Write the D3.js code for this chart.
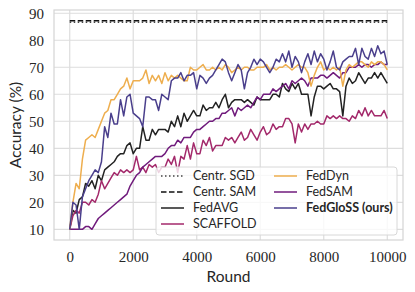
<!DOCTYPE html>
<html>
<head>
<meta charset="utf-8">
<script src="https://cdn.jsdelivr.net/npm/d3@7"></script>
<style>
body { margin: 0; background: #fff; }
.lab { font-family: Lato, "DejaVu Sans", sans-serif; font-size: 15.5px; fill: #262626; }
.leg { font-family: Lato, "DejaVu Sans", sans-serif; font-size: 12.5px; fill: #262626; }
</style>
</head>
<body>
<script>
var width = 415,
    height = 292,
    margin = {left: 54, right: 12, top: 10, bottom: 52};

// rounds 0..10000 every 100
var rounds = d3.range(0, 10001, 100);

var fedDyn = [10,20,27,25,36,43,44,45,44,47,50,53,54,58,58,60,62,63,66,62,
    65,65,65,66,69,64,67,65,67,64,68,65,67,66,67,66,65,65,70,69,
    69,70,71,69,69,70,69,70,69,71,70,68,69,70,69,70,70,69,69,70,
    70,70,71,69,70,69,70,70,71,70,69,70,71,70,70,68,63,67,70,72,
    69,70,69,70,69,70,63,69,71,70,71,72,72,71,70,72,71,72,72,71,69];
var fedGloss = [10,20,19,10,22,25,28,30,32,31,35,48,44,53,49,49,58,52,59,60,
    53,52,51,48,59,59,58,58,54,60,59,58,65,66,66,68,65,67,67,68,
    62,67,66,64,66,67,69,71,73,72,68,65,68,71,69,62,68,70,73,71,
    73,72,70,68,70,73,72,75,72,76,70,74,72,68,72,75,71,76,72,75,
    73,69,72,76,70,69,72,73,74,74,77,71,77,74,73,77,74,78,75,76,71];
var fedAvg = [10,17,16,21,22,27,26,28,25,30,28,32,33,34,35,37,38,38,41,42,
    38,40,40,48,43,43,47,45,47,47,47,46,50,48,52,48,53,50,52,54,
    52,52,56,54,55,55,57,55,58,60,55,57,58,58,58,57,58,57,56,59,
    58,58,58,58,60,60,59,64,62,61,64,62,64,60,60,60,52,59,63,63,
    62,63,64,62,62,61,52,63,66,64,65,68,66,64,66,66,68,66,68,66,64];
var scaffold = [10,15,17,16,20,20,19,21,20,23,28,25,27,29,31,30,32,31,32,31,
    32,37,32,33,31,34,33,34,31,33,33,36,34,37,31,37,36,41,36,42,
    38,38,43,41,44,39,41,41,41,44,43,44,42,44,46,43,44,47,45,43,
    46,48,45,46,49,47,48,48,51,51,49,42,49,46,49,47,49,49,50,49,
    49,52,51,52,51,52,51,51,50,52,51,54,52,55,52,54,52,52,52,54,51];
var fedSam = [10,10,10,10,10,11,11,10,12,14,15,16,17,18,19,20,21,22,23,26,
    28,30,31,33,34,35,36,37,37,37,38,40,41,41,43,42,44,44,44,46,
    47,47,48,49,50,50,51,51,53,53,54,55,52,55,54,55,56,55,57,59,
    58,60,60,60,62,61,62,63,64,62,65,64,65,66,65,63,66,66,66,67,
    67,66,67,68,67,66,68,68,70,70,70,71,70,71,71,70,71,71,72,71,71];
var centrSgd = 86.7,
    centrSam = 87.2;

var yTicks = [10,20,30,40,50,60,70,80,90];
var xTicks = [0,2000,4000,6000,8000,10000];

var series = [
    {name: "FedAVG", values: fedAvg, color: "#222222"},
    {name: "SCAFFOLD", values: scaffold, color: "#a3296b"},
    {name: "FedSAM", values: fedSam, color: "#701b7c"},
    {name: "FedDyn", values: fedDyn, color: "#eeae4e"},
    {name: "FedGloSS (ours)", values: fedGloss, color: "#4a3f8c"}
];

var svg = d3.select("body").append("svg")
    .attr("width", width)
    .attr("height", height);

var x = d3.scaleLinear().domain([-495, 10495]).range([margin.left, width - margin.right]);
var y = d3.scaleLinear().domain([6.04, 91.2]).range([height - margin.bottom, margin.top]);

// grid
svg.append("g").selectAll("line").data(yTicks).enter().append("line")
    .attr("x1", x.range()[0]).attr("x2", x.range()[1])
    .attr("y1", d => y(d)).attr("y2", d => y(d))
    .attr("stroke", "#dddddd").attr("stroke-width", 1.2);
svg.append("g").selectAll("line").data(xTicks).enter().append("line")
    .attr("y1", y.range()[0]).attr("y2", y.range()[1])
    .attr("x1", d => x(d)).attr("x2", d => x(d))
    .attr("stroke", "#dddddd").attr("stroke-width", 1.2);

// frame
svg.append("rect")
    .attr("x", x.range()[0]).attr("y", y.range()[1])
    .attr("width", x.range()[1] - x.range()[0])
    .attr("height", y.range()[0] - y.range()[1])
    .attr("fill", "none").attr("stroke", "#d4d4d4").attr("stroke-width", 1.2);

// axes
var xAxis = svg.append("g")
    .attr("transform", "translate(0," + y.range()[0] + ")")
    .call(d3.axisBottom(x).tickValues(xTicks).tickFormat(d3.format("d")).tickSize(0).tickPadding(11));
var yAxis = svg.append("g")
    .attr("transform", "translate(" + x.range()[0] + ",0)")
    .call(d3.axisLeft(y).tickValues(yTicks).tickSize(0).tickPadding(10));
[xAxis, yAxis].forEach(function (a) {
    a.select(".domain").remove();
    a.attr("font-family", "'Liberation Serif', serif")
        .attr("font-size", 15);
    a.selectAll("text").attr("fill", "#262626");
});

svg.append("text").attr("class", "lab")
    .attr("x", (x.range()[0] + x.range()[1]) / 2).attr("y", 282)
    .attr("text-anchor", "middle").text("Round");
svg.append("text").attr("class", "lab")
    .attr("transform", "translate(21," + (y.range()[0] + y.range()[1]) / 2 + ") rotate(-90)")
    .attr("text-anchor", "middle").text("Accuracy (%)");

// centralized baselines
svg.append("line")
    .attr("x1", x(0)).attr("x2", x(10000))
    .attr("y1", y(centrSgd)).attr("y2", y(centrSgd))
    .attr("stroke", "#444").attr("stroke-width", 1.5).attr("stroke-dasharray", "1.5,2.5");
svg.append("line")
    .attr("x1", x(0)).attr("x2", x(10000))
    .attr("y1", y(centrSam)).attr("y2", y(centrSam))
    .attr("stroke", "#111").attr("stroke-width", 1.5).attr("stroke-dasharray", "5.5,2.5");

var line = d3.line()
    .x((d, i) => x(rounds[i]))
    .y(d => y(d));

series.forEach(function (s) {
    svg.append("path")
        .attr("d", line(s.values))
        .attr("fill", "none")
        .attr("stroke", s.color)
        .attr("stroke-width", 1.5)
        .attr("stroke-linejoin", "round");
});

// legend
var leg = svg.append("g").attr("transform", "translate(156,167)");
leg.append("rect")
    .attr("width", 241).attr("height", 68).attr("rx", 3)
    .attr("fill", "#fff").attr("fill-opacity", 0.8)
    .attr("stroke", "#d8d8d8").attr("stroke-width", 1);

var legItems = [
    {name: "Centr. SGD", color: "#444", dash: "1.5,2.5"},
    {name: "Centr. SAM", color: "#111", dash: "5.5,2.5"},
    {name: "FedAVG", color: series[0].color},
    {name: "SCAFFOLD", color: series[1].color},
    {name: "FedDyn", color: series[3].color},
    {name: "FedSAM", color: series[2].color},
    {name: "FedGloSS (ours)", color: series[4].color, bold: true}
];
legItems.forEach(function (d, i) {
    var col = i < 4 ? 0 : 1, row = i < 4 ? i : i - 4;
    var gx = col === 0 ? 5 : 118, gy = 9 + row * 16;
    leg.append("line")
        .attr("x1", gx).attr("x2", gx + 23)
        .attr("y1", gy).attr("y2", gy)
        .attr("stroke", d.color).attr("stroke-width", 1.5)
        .attr("stroke-dasharray", d.dash || null);
    leg.append("text").attr("class", "leg")
        .attr("x", gx + 32).attr("y", gy + 4)
        .attr("font-weight", d.bold ? "bold" : null)
        .text(d.name);
});
</script>
</body>
</html>
